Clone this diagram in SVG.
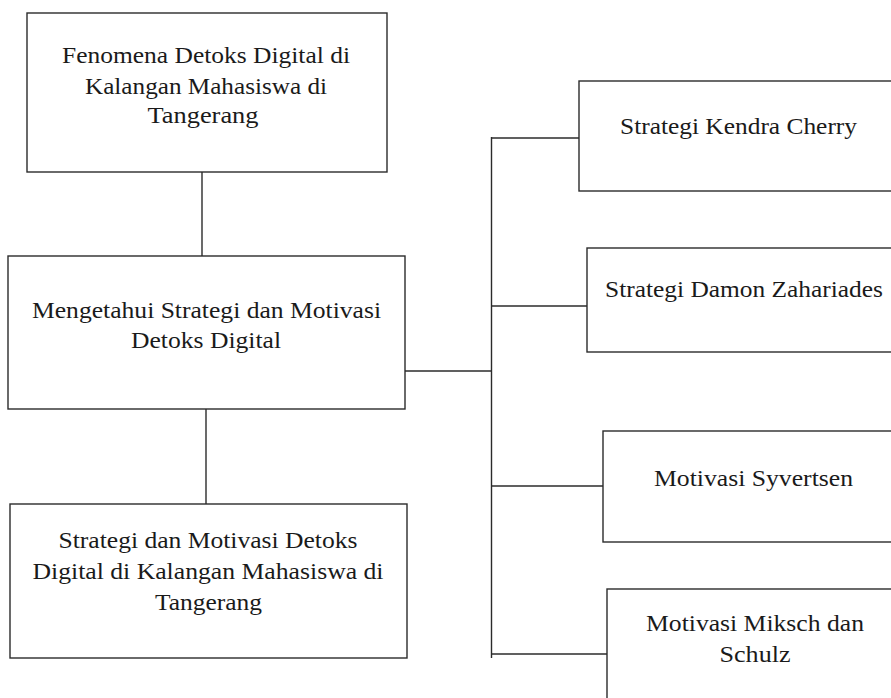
<svg xmlns="http://www.w3.org/2000/svg" width="891" height="698" viewBox="0 0 891 698">
<style>
.box{fill:#fff;stroke:#2b2b2b;stroke-width:1.4}
.ln{stroke:#2b2b2b;stroke-width:1.4;fill:none}
text{font-family:"Liberation Serif","Times New Roman",serif;font-size:24px;fill:#1a1a1a;text-anchor:middle}
</style>
<rect width="891" height="698" fill="#fff"/>
<g id="connectors">
<line class="ln" x1="202" y1="172" x2="202" y2="256"/>
<line class="ln" x1="206" y1="409" x2="206" y2="504"/>
<line class="ln" x1="405" y1="371" x2="491.5" y2="371"/>
<line class="ln" x1="491.5" y1="137" x2="491.5" y2="658"/>
<line class="ln" x1="491.5" y1="138" x2="579" y2="138"/>
<line class="ln" x1="491.5" y1="306" x2="587" y2="306"/>
<line class="ln" x1="491.5" y1="486" x2="603" y2="486"/>
<line class="ln" x1="491.5" y1="654" x2="607" y2="654"/>
</g>
<g id="n1">
<rect class="box" x="27" y="13" width="360" height="159"/>
<text x="206" y="63" textLength="288" lengthAdjust="spacingAndGlyphs">Fenomena Detoks Digital di</text>
<text x="206" y="93.5" textLength="242" lengthAdjust="spacingAndGlyphs">Kalangan Mahasiswa di</text>
<text x="203" y="123" textLength="111" lengthAdjust="spacingAndGlyphs">Tangerang</text>
</g>
<g id="n2">
<rect class="box" x="8" y="256" width="397" height="153"/>
<text x="206.5" y="318" textLength="349" lengthAdjust="spacingAndGlyphs">Mengetahui Strategi dan Motivasi</text>
<text x="206" y="348" textLength="150" lengthAdjust="spacingAndGlyphs">Detoks Digital</text>
</g>
<g id="n3">
<rect class="box" x="10" y="504" width="397" height="154"/>
<text x="208" y="548" textLength="299" lengthAdjust="spacingAndGlyphs">Strategi dan Motivasi Detoks</text>
<text x="208" y="579" textLength="351" lengthAdjust="spacingAndGlyphs">Digital di Kalangan Mahasiswa di</text>
<text x="208.5" y="610" textLength="107" lengthAdjust="spacingAndGlyphs">Tangerang</text>
</g>
<g id="n4">
<rect class="box" x="579" y="81" width="330" height="110"/>
<text x="738.5" y="134" textLength="237" lengthAdjust="spacingAndGlyphs">Strategi Kendra Cherry</text>
</g>
<g id="n5">
<rect class="box" x="587" y="248" width="330" height="104"/>
<text x="744" y="297" textLength="278" lengthAdjust="spacingAndGlyphs">Strategi Damon Zahariades</text>
</g>
<g id="n6">
<rect class="box" x="603" y="431" width="330" height="111"/>
<text x="753.5" y="486" textLength="199" lengthAdjust="spacingAndGlyphs">Motivasi Syvertsen</text>
</g>
<g id="n7">
<rect class="box" x="607" y="589" width="330" height="130"/>
<text x="755" y="631" textLength="218" lengthAdjust="spacingAndGlyphs">Motivasi Miksch dan</text>
<text x="755" y="662" textLength="71" lengthAdjust="spacingAndGlyphs">Schulz</text>
</g>
</svg>
